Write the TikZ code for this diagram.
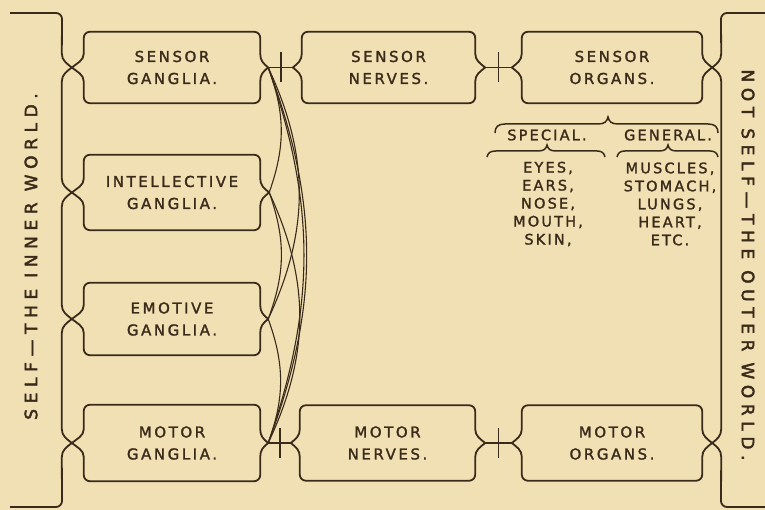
\documentclass[tikz,border=0pt]{standalone}
\usepackage{fontspec}
\setmainfont{DejaVu Sans}
\newfontfamily\boxfont[LetterSpace=17,FakeBold=1.6]{DejaVu Sans}
\newfontfamily\listfont[LetterSpace=15,FakeBold=1.6]{DejaVu Sans}
\newfontfamily\sidefont[LetterSpace=33,FakeBold=2.4]{DejaVu Sans}
\usetikzlibrary{calc}
\definecolor{bgc}{RGB}{241,224,180}
\definecolor{inkc}{RGB}{58,42,25}
\newcommand\braceoutline[3]{%
\draw[boxline] ([xshift=6pt]#1.north west) -- ([xshift=-6pt]#1.north east)
  arc[start angle=90,end angle=0,radius=6pt]
  -- ([yshift=14pt]#1.east)
  .. controls +(0,-7) and +(-5,4) .. ([xshift=#3]#1.east)
  .. controls +(-5,-4) and +(0,7) .. ([yshift=-14pt]#1.east)
  -- ([yshift=6pt]#1.south east)
  arc[start angle=0,end angle=-90,radius=6pt]
  -- ([xshift=6pt]#1.south west)
  arc[start angle=270,end angle=180,radius=6pt]
  -- ([yshift=-14pt]#1.west)
  .. controls +(0,7) and +(5,-4) .. ([xshift=-#2]#1.west)
  .. controls +(5,4) and +(0,-7) .. ([yshift=14pt]#1.west)
  -- ([yshift=-6pt]#1.north west)
  arc[start angle=180,end angle=90,radius=6pt] -- cycle;}
\begin{document}
\begin{tikzpicture}[x=1pt,y=1pt,
  boxline/.style={draw=inkc,line width=1.8pt,line join=round},
  tickline/.style={draw=inkc,line width=1.3pt},
  curveline/.style={draw=inkc,line width=1.1pt},
  bracestroke/.style={draw=inkc,line width=1.5pt},
  boxnode/.style={rectangle,inner sep=0pt,align=center,text=inkc,
    font=\boxfont\fontsize{15}{22}\selectfont},
  listnode/.style={inner sep=0pt,align=center,text=inkc,
    font=\listfont\fontsize{14.5}{18}\selectfont},
  sidetext/.style={inner sep=0pt,text=inkc,font=\sidefont\fontsize{17}{20}\selectfont}]
\fill[bgc] (0,0) rectangle (765,510);
\useasboundingbox (0,0) rectangle (765,510);
% boxes
\node[boxnode,minimum width=176pt,minimum height=71pt] (sg) at (172,442.5) {SENSOR\\GANGLIA.};
\node[boxnode,minimum width=176pt,minimum height=75pt] (ig) at (172,317.5) {INTELLECTIVE\\GANGLIA.};
\node[boxnode,minimum width=176pt,minimum height=72pt] (eg) at (172,191) {EMOTIVE\\GANGLIA.};
\node[boxnode,minimum width=176pt,minimum height=76pt] (mg) at (172,67) {MOTOR\\GANGLIA.};
\node[boxnode,minimum width=173pt,minimum height=71pt] (sn) at (388.5,442.5) {SENSOR\\NERVES.};
\node[boxnode,minimum width=180pt,minimum height=71pt] (so) at (612,442.5) {SENSOR\\ORGANS.};
\node[boxnode,minimum width=175pt,minimum height=75pt] (mn) at (387.5,67) {MOTOR\\NERVES.};
\node[boxnode,minimum width=180pt,minimum height=75pt] (mo) at (612,67) {MOTOR\\ORGANS.};
\braceoutline{sg}{12pt}{8pt}
\braceoutline{ig}{12pt}{9pt}
\braceoutline{eg}{12pt}{8pt}
\braceoutline{mg}{12pt}{8pt}
\braceoutline{sn}{9pt}{10pt}
\braceoutline{so}{10pt}{10pt}
\braceoutline{mn}{9pt}{10pt}
\braceoutline{mo}{10pt}{10pt}
% connectors between boxes
\draw[boxline] ([xshift=8pt]sg.east) -- ([xshift=-9pt]sn.west);
\draw[boxline] ([xshift=10pt]sn.east) -- ([xshift=-10pt]so.west);
\draw[boxline] ([xshift=8pt]mg.east) -- ([xshift=-9pt]mn.west);
\draw[boxline] ([xshift=10pt]mn.east) -- ([xshift=-10pt]mo.west);
\draw[tickline] ($(sg.east)!0.5!(sn.west)$) ++(0,-15) -- ++(0,30);
\draw[tickline] ($(sn.east)!0.5!(so.west)$) ++(0,-15) -- ++(0,30);
\draw[tickline] ($(mg.east)!0.5!(mn.west)$) ++(0,-15) -- ++(0,30);
\draw[tickline] ($(mn.east)!0.5!(mo.west)$) ++(0,-15) -- ++(0,30);
% ganglia interconnections
\coordinate (sgR) at ([xshift=8pt]sg.east);
\coordinate (igR) at ([xshift=9pt]ig.east);
\coordinate (egR) at ([xshift=8pt]eg.east);
\coordinate (mgR) at ([xshift=8pt]mg.east);
\draw[curveline] (sgR) to[bend left=20] (igR);
\draw[curveline] (sgR) to[bend left=25] (egR);
\draw[curveline] (sgR) to[bend left=19] (mgR);
\draw[curveline] (sgR) to[bend left=20.5] (mgR);
\draw[curveline] (igR) to[bend left=20] (egR);
\draw[curveline] (igR) to[bend left=25] (mgR);
\draw[curveline] (egR) to[bend left=20] (mgR);
% outer bracket lines
\draw[boxline] (10,497) -- (56,497) arc[start angle=90,end angle=0,radius=6pt]
  -- ([xshift=-22pt,yshift=14pt]sg.west)
  .. controls +(0,-7) and +(-5,4) .. ([xshift=-12pt]sg.west)
  .. controls +(-5,-4) and +(0,7) .. ([xshift=-22pt,yshift=-14pt]sg.west)
  -- ([xshift=-22pt,yshift=14pt]ig.west)
  .. controls +(0,-7) and +(-5,4) .. ([xshift=-12pt]ig.west)
  .. controls +(-5,-4) and +(0,7) .. ([xshift=-22pt,yshift=-14pt]ig.west)
  -- ([xshift=-22pt,yshift=14pt]eg.west)
  .. controls +(0,-7) and +(-5,4) .. ([xshift=-12pt]eg.west)
  .. controls +(-5,-4) and +(0,7) .. ([xshift=-22pt,yshift=-14pt]eg.west)
  -- ([xshift=-22pt,yshift=14pt]mg.west)
  .. controls +(0,-7) and +(-5,4) .. ([xshift=-12pt]mg.west)
  .. controls +(-5,-4) and +(0,7) .. ([xshift=-22pt,yshift=-14pt]mg.west)
  -- (62,9) arc[start angle=0,end angle=-90,radius=6pt] -- (10,3);
\draw[boxline] (765,497) -- (727,497) arc[start angle=90,end angle=180,radius=6pt]
  -- ([xshift=19pt,yshift=14pt]so.east)
  .. controls +(0,-7) and +(5,4) .. ([xshift=10pt]so.east)
  .. controls +(5,-4) and +(0,7) .. ([xshift=19pt,yshift=-14pt]so.east)
  -- ([xshift=19pt,yshift=14pt]mo.east)
  .. controls +(0,-7) and +(5,4) .. ([xshift=10pt]mo.east)
  .. controls +(5,-4) and +(0,7) .. ([xshift=19pt,yshift=-14pt]mo.east)
  -- (721,9) arc[start angle=180,end angle=270,radius=6pt] -- (765,3);
% special / general braces
\draw[bracestroke] (495,377) .. controls (495,383) and (498,386) .. (505,386) -- (598,386)
  .. controls (604,386) and (607,388) .. (608,393)
  .. controls (609,388) and (612,386) .. (618,386) -- (708,386)
  .. controls (715,386) and (718,383) .. (718,377);
\node[listnode] (special) at (547,375) {SPECIAL.};
\node[listnode] (general) at (668,375) {GENERAL.};
\draw[bracestroke] (487,353) .. controls (488,357) and (490,359) .. (496,359) -- (538,359)
  .. controls (544,359) and (546,361) .. (547,365)
  .. controls (548,361) and (550,359) .. (556,359) -- (597,359)
  .. controls (602,359) and (604,357) .. (605,353);
\draw[bracestroke] (617,353) .. controls (618,357) and (620,359) .. (625,359) -- (659,359)
  .. controls (665,359) and (667,361) .. (668,365)
  .. controls (669,361) and (671,359) .. (677,359) -- (710,359)
  .. controls (715,359) and (717,357) .. (718,353);
\node[listnode] (speclist) at (548,306) {EYES,\\EARS,\\NOSE,\\MOUTH,\\SKIN,};
\node[listnode] (genlist) at (670,306) {MUSCLES,\\STOMACH,\\LUNGS,\\HEART,\\ETC.};
% side texts
\node[sidetext,rotate=90] (self) at (31,253.5) {SELF—THE INNER WORLD.};
\node[sidetext,rotate=-90] (notself) at (748,245) {NOT SELF—THE OUTER WORLD.};
\end{tikzpicture}
\end{document}
